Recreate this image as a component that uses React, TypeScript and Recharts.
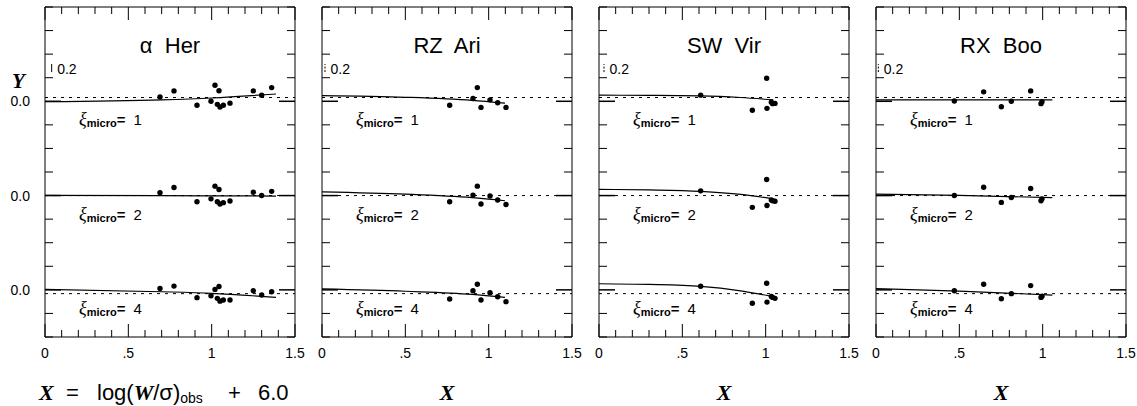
import React from "react";
import { ComposedChart, Scatter, Line, XAxis, YAxis, ReferenceLine } from "recharts";

// residuals (Y) for each star, three microturbulence values; zero of each strip is added below
const HER_X = [0.69, 0.774, 0.912, 0.996, 1.02, 1.044, 1.034, 1.05, 1.07, 1.11, 1.25, 1.3, 1.36];
const HER_XI1 = [0.09, 0.22, -0.085, 0.0, 0.34, 0.225, -0.065, -0.12, -0.085, -0.04, 0.22, 0.13, 0.29];
const HER_XI2 = [0.06, 0.17, -0.13, -0.07, 0.2, 0.13, -0.13, -0.18, -0.15, -0.115, 0.07, 0.0, 0.09];
const HER_XI4 = [0.03, 0.08, -0.165, -0.125, 0.01, 0.07, -0.18, -0.24, -0.215, -0.215, -0.02, -0.11, -0.04];
const HER_FIT_X = [0, 0.7, 1.0, 1.386];
const HER_FIT1 = [-0.01, 0.03, 0.07, 0.155];
const HER_FIT2 = [0.005, 0.0, -0.005, -0.01];
const HER_FIT4 = [0.01, -0.04, -0.075, -0.16];

const ARI_X = [0.766, 0.906, 0.932, 0.954, 1.008, 1.054, 1.104];
const ARI_XI1 = [-0.085, 0.06, 0.29, -0.13, 0.03, -0.03, -0.13];
const ARI_XI2 = [-0.13, 0.01, 0.2, -0.18, -0.01, -0.095, -0.19];
const ARI_XI4 = [-0.195, -0.02, 0.12, -0.215, -0.06, -0.145, -0.25];
const ARI_FIT_X = [0, 0.5, 0.9, 1.098];
const ARI_FIT1 = [0.12, 0.085, 0.02, -0.04];
const ARI_FIT2 = [0.08, 0.03, -0.045, -0.11];
const ARI_FIT4 = [0.02, -0.03, -0.095, -0.16];

const VIR_X = [0.61, 0.92, 1.006, 1.008, 1.034, 1.042, 1.056];
const VIR_XI1 = [0.13, -0.19, 0.49, -0.15, -0.02, -0.05, -0.045];
const VIR_XI2 = [0.1, -0.25, 0.34, -0.21, -0.095, -0.11, -0.12];
const VIR_XI4 = [0.075, -0.285, 0.14, -0.26, -0.14, -0.16, -0.18];
const VIR_FIT_X = [0, 0.3, 0.61, 0.85, 1.046];
const VIR_FIT1 = [0.13, 0.125, 0.115, 0.08, 0.03];
const VIR_FIT2 = [0.13, 0.12, 0.09, 0.025, -0.07];
const VIR_FIT4 = [0.13, 0.115, 0.075, -0.02, -0.145];

const BOO_X = [0.47, 0.646, 0.752, 0.812, 0.928, 0.99, 0.996];
const BOO_XI1 = [0.005, 0.2, -0.115, 0.0, 0.22, -0.05, -0.01];
const BOO_XI2 = [0.0, 0.175, -0.145, -0.04, 0.15, -0.11, -0.07];
const BOO_XI4 = [-0.02, 0.12, -0.19, -0.08, 0.09, -0.16, -0.135];
const BOO_FIT_X = [0, 0.5, 1.058];
const BOO_FIT1 = [0.03, 0.03, 0.03];
const BOO_FIT2 = [0.03, 0.005, -0.045];
const BOO_FIT4 = [0.025, -0.025, -0.11];

const STARS = ["\u03b1\u00a0 Her", "RZ\u00a0 Ari", "SW\u00a0 Vir", "RX\u00a0 Boo"];
const XI_LABELS = ["1", "2", "4"];
const ZERO_LEVELS = [5, 3, 1];
const DOTTED = [0.08, 0, -0.08];
const BAR_X = [0.04, 0.018, 0.03, 0.014];

const XTICKS = [0, 0.1, 0.2, 0.3, 0.4, 0.5, 0.6, 0.7, 0.8, 0.9, 1, 1.1, 1.2, 1.3, 1.4, 1.5];
const XTICK_LABELS: Record<string, string> = { "0": "0", "0.5": ".5", "1": "1", "1.5": "1.5" };
const YTICKS = [0, 0.5, 1, 1.5, 2, 2.5, 3, 3.5, 4, 4.5, 5, 5.5, 6, 6.5, 7];

const PANEL_LEFT = [45, 322, 599, 876];
const PLOT_W = 250;
const PLOT_TOP = 7;
const PLOT_H = 330;
const FONT = "'Liberation Sans', Arial, sans-serif";
const SERIF = "'Liberation Serif', 'DejaVu Serif', serif";

const panels = [
  { xs: HER_X, subs: [HER_XI1, HER_XI2, HER_XI4], fitX: HER_FIT_X, fits: [HER_FIT1, HER_FIT2, HER_FIT4] },
  { xs: ARI_X, subs: [ARI_XI1, ARI_XI2, ARI_XI4], fitX: ARI_FIT_X, fits: [ARI_FIT1, ARI_FIT2, ARI_FIT4] },
  { xs: VIR_X, subs: [VIR_XI1, VIR_XI2, VIR_XI4], fitX: VIR_FIT_X, fits: [VIR_FIT1, VIR_FIT2, VIR_FIT4] },
  { xs: BOO_X, subs: [BOO_XI1, BOO_XI2, BOO_XI4], fitX: BOO_FIT_X, fits: [BOO_FIT1, BOO_FIT2, BOO_FIT4] },
];

const yPx = (v: number) => PLOT_TOP + PLOT_H * (1 - v / 7);
const isHalf = (v: number) => Math.abs(v * 2 - Math.round(v * 2)) < 1e-6;
const isZero = (v: number) => ZERO_LEVELS.includes(v);

const BottomTick = (p: any) => {
  const v = p.payload.value;
  const label = XTICK_LABELS[String(v)];
  return (
    <g>
      <line x1={p.x} x2={p.x} y1={p.y} y2={p.y - (isHalf(v) ? 13 : 7)} stroke="#000" />
      {label && (
        <text x={p.x} y={p.y + 21} textAnchor="middle" fontSize={14} fontFamily={FONT} fill="#000">
          {label}
        </text>
      )}
    </g>
  );
};

const TopTick = (p: any) => (
  <line x1={p.x} x2={p.x} y1={p.y} y2={p.y + (isHalf(p.payload.value) ? 13 : 7)} stroke="#000" />
);

const makeLeftTick = (showLabel: boolean) => (p: any) => {
  const v = p.payload.value;
  const major = isZero(v);
  return (
    <g>
      <line x1={p.x} x2={p.x + (major ? 16 : 8)} y1={p.y} y2={p.y} stroke="#000" strokeWidth={major ? 1.5 : 1} />
      {showLabel && major && (
        <text x={p.x - 15} y={p.y + 5} textAnchor="end" fontSize={14} fontFamily={FONT} fill="#000">
          0.0
        </text>
      )}
    </g>
  );
};

const RightTick = (p: any) => {
  const major = isZero(p.payload.value);
  return <line x1={p.x} x2={p.x - (major ? 16 : 8)} y1={p.y} y2={p.y} stroke="#000" strokeWidth={major ? 1.5 : 1} />;
};

const Dot = (p: any) => <circle cx={p.cx} cy={p.cy} r={2.7} fill="#000" />;

const Panel = ({ idx }: { idx: number }) => {
  const panel = panels[idx];
  const left = PANEL_LEFT[idx];
  return (
    <div style={{ position: "absolute", left: left - 40, top: 0 }}>
      <ComposedChart width={300} height={406} margin={{ top: 0, right: 0, bottom: 49, left: 0 }}>
        <XAxis
          xAxisId={0}
          dataKey="x"
          type="number"
          domain={[0, 1.5]}
          ticks={XTICKS}
          interval={0}
          orientation="bottom"
          height={20}
          tickSize={0}
          tickMargin={0}
          tickLine={false}
          stroke="#000"
          tick={BottomTick}
          allowDataOverflow
        />
        <XAxis
          xAxisId="top"
          dataKey="x"
          type="number"
          domain={[0, 1.5]}
          ticks={XTICKS}
          interval={0}
          orientation="top"
          height={7}
          tickSize={0}
          tickMargin={0}
          tickLine={false}
          stroke="#000"
          tick={TopTick}
          allowDataOverflow
        />
        <YAxis
          yAxisId={0}
          dataKey="y"
          type="number"
          domain={[0, 7]}
          ticks={YTICKS}
          interval={0}
          width={40}
          tickSize={0}
          tickMargin={0}
          tickLine={false}
          stroke="#000"
          tick={makeLeftTick(idx === 0)}
          allowDataOverflow
        />
        <YAxis
          yAxisId="right"
          orientation="right"
          dataKey="y"
          type="number"
          domain={[0, 7]}
          ticks={YTICKS}
          interval={0}
          width={10}
          tickSize={0}
          tickMargin={0}
          tickLine={false}
          stroke="#000"
          tick={RightTick}
          allowDataOverflow
        />
        {ZERO_LEVELS.map((z, k) => (
          <ReferenceLine key={"d" + k} y={z + DOTTED[k]} stroke="#000" strokeDasharray="3 5" />
        ))}
        <ReferenceLine
          segment={[
            { x: BAR_X[idx], y: 5.62 },
            { x: BAR_X[idx], y: 5.79 },
          ]}
          stroke="#000"
          strokeDasharray={idx === 0 ? undefined : "2 1.5"}
        />
        {ZERO_LEVELS.map((z, k) => (
          <Line
            key={"f" + k}
            data={panel.fitX.map((x, j) => ({ x, y: z + panel.fits[k][j] }))}
            dataKey="y"
            type="monotone"
            dot={false}
            stroke="#000"
            strokeWidth={1.2}
            isAnimationActive={false}
          />
        ))}
        {ZERO_LEVELS.map((z, k) => (
          <Scatter
            key={"s" + k}
            data={panel.xs.map((x, j) => ({ x, y: z + panel.subs[k][j] }))}
            dataKey="y"
            shape={Dot}
            isAnimationActive={false}
          />
        ))}
      </ComposedChart>
    </div>
  );
};

const Overlay = () => (
  <svg width={1137} height={406} style={{ position: "absolute", left: 0, top: 0, pointerEvents: "none" }}>
    {STARS.map((s, i) => (
      <text key={s} x={PANEL_LEFT[i] + PLOT_W / 2} y={53} textAnchor="middle" fontSize={22} fontFamily={FONT}>
        {s}
      </text>
    ))}
    {PANEL_LEFT.map((l, i) => (
      <text key={"b" + i} x={l + (BAR_X[i] * PLOT_W) / 1.5 + 5.5} y={74} fontSize={14} fontFamily={FONT}>
        0.2
      </text>
    ))}
    {PANEL_LEFT.map((l, i) =>
      ZERO_LEVELS.map((z, k) => (
        <text key={"xi" + i + k} x={l + 34} y={yPx(z) + 24} fontSize={15} fontFamily={FONT}>
          <tspan fontFamily={SERIF} fontStyle="italic" fontSize={18}>
            ξ
          </tspan>
          <tspan fontSize={11} fontWeight="bold" dy={2}>
            micro
          </tspan>
          <tspan dy={-2} fontWeight="bold">
            =
          </tspan>
          <tspan dx={8}>{XI_LABELS[k]}</tspan>
        </text>
      ))
    )}
    <text x={12} y={88} fontSize={21} fontFamily={SERIF} fontStyle="italic" fontWeight="bold">
      Y
    </text>
    <text y={400} fontSize={22} fontFamily={FONT}>
      <tspan x={39} fontFamily={SERIF} fontStyle="italic" fontWeight="bold">
        X
      </tspan>
      <tspan x={66}>=</tspan>
      <tspan x={97}>log(</tspan>
      <tspan fontFamily={SERIF} fontStyle="italic" fontWeight="bold">
        W
      </tspan>
      <tspan>/σ)</tspan>
      <tspan fontSize={14} dy={3}>
        obs
      </tspan>
      <tspan x={228} dy={-3}>
        +
      </tspan>
      <tspan x={258}>6.0</tspan>
    </text>
    {PANEL_LEFT.slice(1).map((l) => (
      <text
        key={"X" + l}
        x={l + PLOT_W / 2}
        y={400}
        textAnchor="middle"
        fontSize={22}
        fontFamily={SERIF}
        fontStyle="italic"
        fontWeight="bold"
      >
        X
      </text>
    ))}
  </svg>
);

export default function App() {
  return (
    <div style={{ position: "absolute", left: 0, top: 0, width: 1137, height: 406, background: "#fff" }}>
      {panels.map((_, i) => (
        <Panel key={i} idx={i} />
      ))}
      <Overlay />
    </div>
  );
}
